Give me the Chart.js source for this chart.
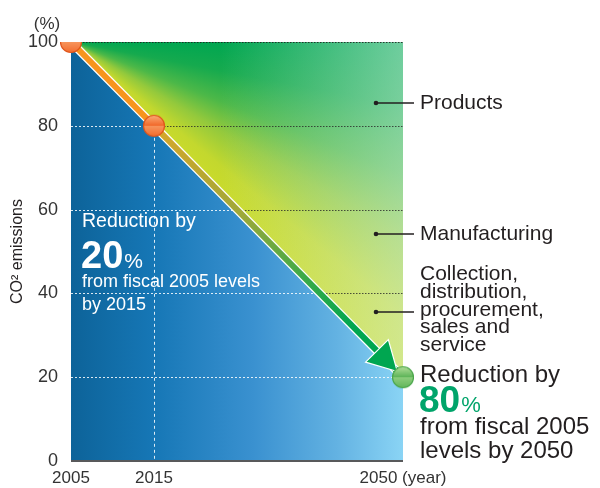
<!DOCTYPE html>
<html>
<head>
<meta charset="utf-8">
<script src="https://cdn.jsdelivr.net/npm/chart.js@4.4.0/dist/chart.umd.min.js"></script>
<style>
html, body { margin: 0; padding: 0; background: #fff; }
#wrap { width: 600px; height: 488px; }
</style>
</head>
<body>
<div id="wrap"><canvas id="co2"></canvas></div>
<script>
// data
var years = ["2005", "2015", "", "", "2050"];
var emissions = [100, 80, null, null, 20];
var ceiling = [100, 100, 100, 100, 100];
var yTicks = [0, 20, 40, 60, 80, 100];
var gridLevels = [20, 40, 60, 80];

var FONT = "'Liberation Sans', Arial, Helvetica, sans-serif";
var INK = "#231f20";

// glossy marker balls
function ball(top, bottom, edge, band) {
    var cv = document.createElement("canvas");
    cv.width = 24; cv.height = 24;
    var g = cv.getContext("2d");
    var grd = g.createLinearGradient(0, 1, 0, 23);
    grd.addColorStop(0, top);
    grd.addColorStop(0.48, bottom);
    grd.addColorStop(0.52, band);
    grd.addColorStop(1, bottom);
    g.beginPath();
    g.arc(12, 12, 10.5, 0, Math.PI * 2);
    g.fillStyle = grd;
    g.fill();
    g.lineWidth = 1.2;
    g.strokeStyle = edge;
    g.stroke();
    return cv;
}
var orangeBall = ball("#fbb07a", "#f26a2c", "#e0551b", "#f7935a");
var greenBall = ball("#b6e09c", "#5fb55a", "#4aa64a", "#8ccd7c");

function greenFill(ctx) {
    var chart = ctx.chart;
    if (!chart.chartArea) return "#39b54a";
    var x0 = chart.scales.x.getPixelForValue(0);
    var y0 = chart.scales.y.getPixelForValue(100);
    var g = chart.ctx.createConicGradient(0, x0, y0);
    g.addColorStop(0, "#00a651");
    g.addColorStop(0.03, "#16aa4e");
    g.addColorStop(0.06, "#4cb848");
    g.addColorStop(0.085, "#93c93c");
    g.addColorStop(0.11, "#c3d82e");
    g.addColorStop(0.13, "#ccdc2a");
    g.addColorStop(0.5, "#ccdc2a");
    g.addColorStop(1, "#00a651");
    return g;
}

function whiten(ctx) {
    var a = ctx.chart.chartArea;
    if (!a) return "rgba(0,0,0,0)";
    var g = ctx.chart.ctx.createLinearGradient(a.left, 0, a.right, 0);
    g.addColorStop(0, "rgba(220,245,235,0)");
    g.addColorStop(0.45, "rgba(220,245,235,0)");
    g.addColorStop(1, "rgba(220,245,235,0.5)");
    return g;
}

function blueFill(ctx) {
    var a = ctx.chart.chartArea;
    if (!a) return "#2a85c5";
    var g = ctx.chart.ctx.createLinearGradient(a.left, 0, a.right, 0);
    g.addColorStop(0, "#0d6399");
    g.addColorStop(0.25, "#1677b6");
    g.addColorStop(0.55, "#3a91d0");
    g.addColorStop(0.8, "#63b2e2");
    g.addColorStop(1, "#8ad4f5");
    return g;
}

function pathColor(s) {
    if (s.p1DataIndex <= 1) return "#f7941d";
    var chart = s.chart;
    if (!chart.chartArea) return "#00a650";
    var xs = chart.scales.x, ys = chart.scales.y, last = years.length - 1;
    var g = chart.ctx.createLinearGradient(
        xs.getPixelForValue(1), ys.getPixelForValue(emissions[1]),
        xs.getPixelForValue(last), ys.getPixelForValue(emissions[last]));
    g.addColorStop(0, "#d8a62a");
    g.addColorStop(0.35, "#9fa839");
    g.addColorStop(0.6, "#3daa48");
    g.addColorStop(0.8, "#00a650");
    g.addColorStop(1, "#00a650");
    return g;
}

var gridPlugin = {
    id: "gridPlugin",
    beforeDatasetDraw: function (chart, args) {
        if (args.index !== 2) return;
        var c = chart.ctx, a = chart.chartArea, ys = chart.scales.y, xs = chart.scales.x;
        var pts = chart.getDatasetMeta(3).data.filter(function (p) { return !p.skip; });

        // white dotted lines in blue area
        c.save();
        c.beginPath();
        c.moveTo(pts[0].x, pts[0].y);
        pts.forEach(function (p) { c.lineTo(p.x, p.y); });
        c.lineTo(a.right, a.bottom);
        c.lineTo(a.left, a.bottom);
        c.closePath();
        c.clip();
        c.strokeStyle = "rgba(255,255,255,0.85)";
        c.lineWidth = 1;
        c.setLineDash([2, 2]);
        gridLevels.forEach(function (v) {
            var y = Math.round(ys.getPixelForValue(v)) + 0.5;
            c.beginPath(); c.moveTo(a.left, y); c.lineTo(a.right, y); c.stroke();
        });
        var x15 = Math.round(xs.getPixelForValue(1)) + 0.5;
        c.setLineDash([3, 3]);
        c.beginPath(); c.moveTo(x15, ys.getPixelForValue(80)); c.lineTo(x15, a.bottom); c.stroke();
        c.restore();

        // dark dotted lines in green area
        c.save();
        c.beginPath();
        c.moveTo(pts[0].x, pts[0].y);
        pts.forEach(function (p) { c.lineTo(p.x, p.y); });
        c.lineTo(a.right, a.top);
        c.closePath();
        c.clip();
        c.strokeStyle = "rgba(40,40,40,0.8)";
        c.lineWidth = 1;
        c.setLineDash([1.5, 1.5]);
        gridLevels.forEach(function (v) {
            var y = Math.round(ys.getPixelForValue(v)) + 0.5;
            c.beginPath(); c.moveTo(a.left, y); c.lineTo(a.right, y); c.stroke();
        });
        c.restore();

        c.save();
        c.strokeStyle = "rgba(30,30,30,0.85)";
        c.setLineDash([1.5, 1.5]);
        c.lineWidth = 1.2;
        var yt = Math.round(ys.getPixelForValue(100)) + 0.5;
        c.beginPath(); c.moveTo(a.left, yt); c.lineTo(a.right, yt); c.stroke();
        c.setLineDash([]);
        c.strokeStyle = "#58595b";
        c.lineWidth = 2;
        c.beginPath(); c.moveTo(a.left, a.bottom); c.lineTo(a.right, a.bottom); c.stroke();
        c.restore();
    },
    afterDatasetDraw: function (chart, args) {
        if (args.index !== 1) return;
        // arrow head at the 2050 end of the path
        var c = chart.ctx;
        var pts = chart.getDatasetMeta(1).data.filter(function (p) { return !p.skip; });
        var p0 = pts[pts.length - 2], p1 = pts[pts.length - 1];
        var dx = p1.x - p0.x, dy = p1.y - p0.y, L = Math.sqrt(dx * dx + dy * dy);
        var ux = dx / L, uy = dy / L;
        var tx = p1.x - ux * 8, ty = p1.y - uy * 8;
        var bx = tx - ux * 29, by = ty - uy * 29;
        c.save();
        c.beginPath();
        c.moveTo(tx, ty);
        c.lineTo(bx - uy * 16, by + ux * 16);
        c.lineTo(bx + uy * 16, by - ux * 16);
        c.closePath();
        c.fillStyle = "#00a650";
        c.strokeStyle = "#ffffff";
        c.lineWidth = 1.2;
        c.fill();
        c.stroke();
        c.restore();
    }
};

var textPlugin = {
    id: "textPlugin",
    afterDraw: function (chart) {
        var c = chart.ctx, a = chart.chartArea;
        c.save();
        c.textBaseline = "alphabetic";
        c.textAlign = "center";
        c.fillStyle = "#333";
        c.font = "17px " + FONT;
        c.fillText("(%)", 47, 29);

        // right side labels with leader lines
        c.textAlign = "left";
        c.fillStyle = INK;
        var dotX = a.right - 27, lineEnd = a.right + 11, tx = a.right + 17;
        [[103, ["Products"], 109], [234, ["Manufacturing"], 240], [312, ["Collection,", "distribution,", "procurement,", "sales and", "service"], 280]].forEach(function (it) {
            c.beginPath(); c.arc(dotX, it[0], 2.3, 0, Math.PI * 2); c.fill();
            c.strokeStyle = INK; c.lineWidth = 1.3;
            c.beginPath(); c.moveTo(dotX, it[0]); c.lineTo(lineEnd, it[0]); c.stroke();
            c.font = "21px " + FONT;
            it[1].forEach(function (s, i) { c.fillText(s, tx, it[2] + i * 17.8); });
        });

        // 2050 note
        c.font = "24px " + FONT;
        c.fillText("Reduction by", tx, 382);
        c.fillStyle = "#00a46a";
        c.font = "bold 37px " + FONT;
        c.fillText("80", tx - 1, 412);
        var w = c.measureText("80").width;
        c.font = "22px " + FONT;
        c.fillText("%", tx + w, 412);
        c.fillStyle = INK;
        c.font = "24px " + FONT;
        c.fillText("from fiscal 2005", tx, 434);
        c.fillText("levels by 2050", tx, 458);

        // 2015 note
        c.fillStyle = "#ffffff";
        var lx = a.left + 11;
        c.font = "19.5px " + FONT;
        c.fillText("Reduction by", lx, 227);
        c.font = "bold 38px " + FONT;
        c.fillText("20", lx - 1, 268);
        w = c.measureText("20").width;
        c.font = "21px " + FONT;
        c.fillText("%", lx + w, 268);
        c.font = "18px " + FONT;
        c.fillText("from fiscal 2005 levels", lx, 287);
        c.fillText("by 2015", lx, 310);
        c.restore();
    }
};

new Chart(document.getElementById("co2").getContext("2d"), {
    type: "line",
    data: {
        labels: years,
        datasets: [{
            label: "milestones",
            data: emissions,
            showLine: false,
            pointStyle: function (ctx) { return ctx.dataIndex === 4 ? greenBall : orangeBall; },
            pointRadius: 10
        }, {
            label: "path",
            data: emissions,
            spanGaps: true,
            fill: false,
            pointRadius: 0,
            borderWidth: 6,
            borderCapStyle: "butt",
            segment: {
                borderColor: pathColor
            }
        }, {
            label: "edge",
            data: emissions,
            spanGaps: true,
            fill: false,
            pointRadius: 0,
            borderColor: "#ffffff",
            borderWidth: 8.5
        }, {
            label: "CO2 emissions",
            data: emissions,
            spanGaps: true,
            fill: "origin",
            pointRadius: 0,
            borderWidth: 0,
            backgroundColor: blueFill
        }, {
            label: "light",
            data: ceiling,
            fill: 3,
            pointRadius: 0,
            borderWidth: 0,
            backgroundColor: whiten
        }, {
            label: "reduction",
            data: ceiling,
            fill: 3,
            pointRadius: 0,
            borderWidth: 0,
            backgroundColor: greenFill
        }]
    },
    options: {
        responsive: true,
        maintainAspectRatio: false,
        animation: false,
        layout: { padding: { top: 42, right: 197, left: 0, bottom: 0 } },
        plugins: { legend: { display: false }, tooltip: { enabled: false } },
        scales: {
            x: {
                type: "category",
                offset: false,
                afterFit: function (s) { s.height = 27; },
                grid: { display: false, drawTicks: false, tickLength: 0 },
                border: { display: false },
                ticks: {
                    autoSkip: false,
                    maxRotation: 0,
                    padding: 7,
                    color: "#333",
                    font: { family: FONT, size: 17 },
                    callback: function (v, i) { return i === years.length - 1 ? years[i] + " (year)" : years[i]; }
                }
            },
            y: {
                min: 0,
                max: 100,
                afterBuildTicks: function (s) { s.ticks = yTicks.map(function (v) { return { value: v }; }); },
                afterFit: function (s) { s.width = 71; },
                grid: { display: false, drawTicks: false },
                border: { display: false },
                ticks: {
                    padding: 13,
                    color: "#333",
                    font: { family: FONT, size: 18 }
                },
                title: {
                    display: true,
                    text: "CO² emissions",
                    color: INK,
                    font: { family: FONT, size: 16 },
                    padding: { top: 8, bottom: 0 }
                }
            }
        }
    },
    plugins: [gridPlugin, textPlugin]
});
</script>
</body>
</html>
